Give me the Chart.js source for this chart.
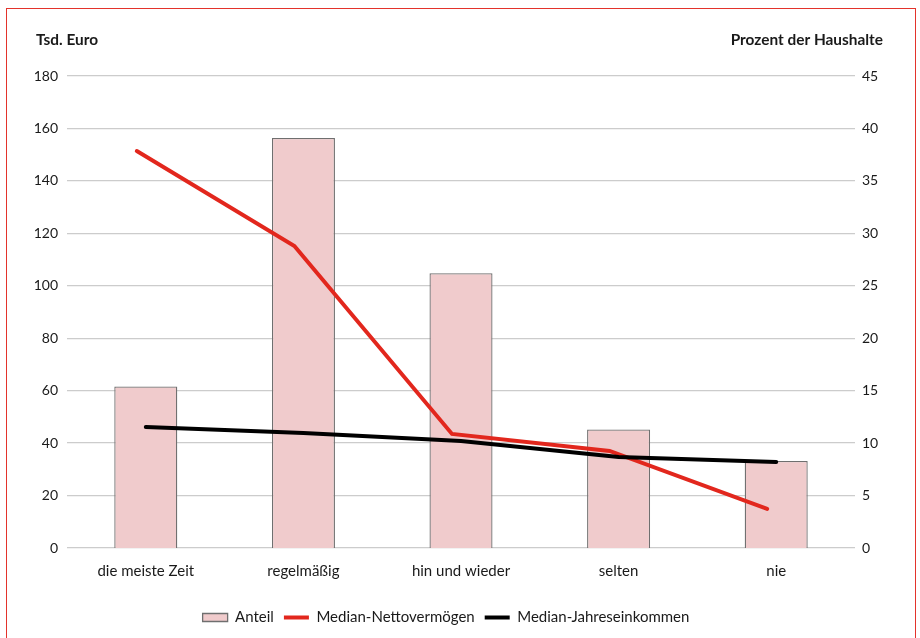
<!DOCTYPE html>
<html>
<head>
<meta charset="utf-8">
<script src="https://cdn.jsdelivr.net/npm/chart.js@4"></script>
<style>
  html, body { margin: 0; padding: 0; background: #fff; }
  #wrap { position: relative; width: 920px; height: 638px; }
  #frame { position: absolute; left: 6px; top: 8px; width: 910px; height: 640px; border: 1px solid #e3332b; box-sizing: border-box; pointer-events: none; }
  canvas { position: absolute; left: 0; top: 0; }
</style>
</head>
<body>
<div id="wrap">
  <canvas id="c" width="920" height="638"></canvas>
  <div id="frame"></div>
</div>
<script>
const categories = ["die meiste Zeit", "regelmäßig", "hin und wieder", "selten", "nie"];
const anteil = [15.4, 39.1, 26.2, 11.3, 8.3];                 // Prozent der Haushalte
const medianNettovermoegen = [151.4, 115.2, 43.5, 37.0, 14.9]; // Tsd. Euro
const medianJahreseinkommen = [46.1, 43.9, 40.8, 34.7, 32.8];  // Tsd. Euro
const leftTitle = "Tsd. Euro";
const rightTitle = "Prozent der Haushalte";

const FONT = "Lato";
const TXT = "#1a1a1a";

const titlesPlugin = {
  id: 'axisTitles',
  afterLayout(chart) {
    // reference legend sits slightly left of centre
    chart.legend.left -= 14;
    chart.legend.right -= 14;
  },
  beforeDatasetDraw(chart, args) {
    if (args.index === 1) { chart.ctx.save(); chart.ctx.translate(-9, 0); }
  },
  afterDatasetDraw(chart, args) {
    if (args.index === 1) { chart.ctx.restore(); }
  },
  afterDraw(chart) {
    const ctx = chart.ctx;
    ctx.save();
    ctx.fillStyle = TXT;
    ctx.font = "bold 15.4px " + FONT;
    ctx.textBaseline = "middle";
    ctx.textAlign = "left";
    ctx.fillText(leftTitle, 36, 40);
    ctx.textAlign = "right";
    ctx.fillText(rightTitle, 883, 40);
    ctx.restore();
  }
};

new Chart(document.getElementById('c'), {
  type: 'bar',
  data: {
    labels: categories,
    datasets: [
      {
        type: 'bar',
        label: 'Anteil',
        data: anteil,
        yAxisID: 'yR',
        backgroundColor: '#f0cbcc',
        borderColor: '#6f6f6f',
        borderWidth: 1.3,
        barPercentage: 0.4,
        categoryPercentage: 1,
        pointStyle: 'rect',
        order: 3
      },
      {
        type: 'line',
        label: 'Median-Nettovermögen',
        data: medianNettovermoegen,
        yAxisID: 'yL',
        borderColor: '#e2271d',
        backgroundColor: '#e2271d',
        borderWidth: 4,
        borderCapStyle: 'round',
        pointRadius: 0,
        pointStyle: 'line',
        tension: 0,
        order: 2
      },
      {
        type: 'line',
        label: 'Median-Jahreseinkommen',
        data: medianJahreseinkommen,
        yAxisID: 'yL',
        borderColor: '#000000',
        backgroundColor: '#000000',
        borderWidth: 4,
        borderCapStyle: 'round',
        pointRadius: 0,
        pointStyle: 'line',
        tension: 0,
        order: 1
      }
    ]
  },
  options: {
    responsive: false,
    animation: false,
    layout: { padding: { top: 76, left: 0, right: 0, bottom: 3 } },
    plugins: {
      legend: {
        position: 'bottom',
        labels: {
          usePointStyle: true,
          pointStyleWidth: 25,
          boxHeight: 8,
          padding: 10,
          color: TXT,
          font: { family: FONT, size: 15 },
          sort: (a, b) => a.datasetIndex - b.datasetIndex
        }
      },
      tooltip: { enabled: false }
    },
    scales: {
      x: {
        grid: { display: false, drawTicks: false },
        border: { display: false },
        ticks: { color: TXT, font: { family: FONT, size: 15 }, padding: 14 },
        afterFit(s) { s.height = 52; }
      },
      yL: {
        position: 'left',
        min: 0, max: 180,
        ticks: { stepSize: 20, color: TXT, font: { family: FONT, size: 14 }, padding: 9 },
        grid: { color: '#cccccc', lineWidth: 1.3, drawTicks: false },
        border: { display: false },
        afterFit(s) { s.width = 67; }
      },
      yR: {
        position: 'right',
        min: 0, max: 45,
        ticks: { stepSize: 5, color: TXT, font: { family: FONT, size: 14 }, padding: 7 },
        grid: { display: false, drawTicks: false },
        border: { display: false },
        afterFit(s) { s.width = 65; }
      }
    }
  },
  plugins: [titlesPlugin]
});
</script>
</body>
</html>
